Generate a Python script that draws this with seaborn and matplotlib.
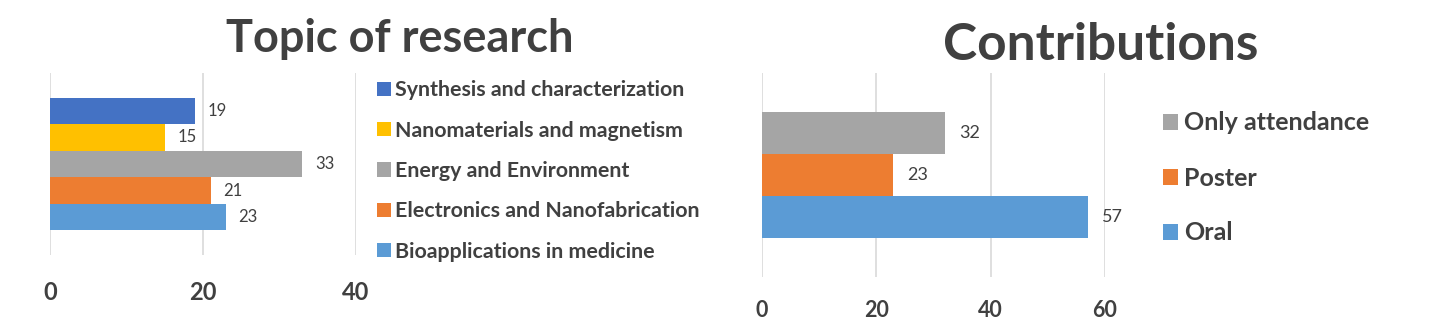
import matplotlib
matplotlib.use('Agg')
import matplotlib.pyplot as plt
from matplotlib.patches import Patch
import pandas as pd
import seaborn as sns

# Data
topics = ['Synthesis and characterization', 'Nanomaterials and magnetism',
          'Energy and Environment', 'Electronics and Nanofabrication',
          'Bioapplications in medicine']
topic_counts = [19, 15, 33, 21, 23]
topic_colors = ['#4472C4', '#FFC000', '#A5A5A5', '#ED7D31', '#5B9BD5']
topic_ticks = [0, 20, 40]

contrib_types = ['Only attendance', 'Poster', 'Oral']
contrib_counts = [32, 23, 57]
contrib_colors = ['#A5A5A5', '#ED7D31', '#5B9BD5']
contrib_ticks = [0, 20, 40, 60]

sns.set_style('white')
plt.rcParams['font.family'] = ['Lato', 'DejaVu Sans']

W, H = 1449, 331
fig = plt.figure(figsize=(W / 100, H / 100), dpi=100)
TXT = '#404040'
GRID = '#D9D9D9'


def px_axes(x0, x1, y0, y1):
    # pixel box (top-left origin) -> figure axes
    return fig.add_axes([x0 / W, 1 - y1 / H, (x1 - x0) / W, (y1 - y0) / H])


def draw(ax, cats, vals, colors, ticks, tick_size, tick_pad, lab_size, lab_pad):
    df = pd.DataFrame({'cat': cats, 'val': vals})
    sns.barplot(data=df, x='val', y='cat', hue='cat', palette=colors,
                orient='h', width=1.0, saturation=1, legend=False, ax=ax,
                linewidth=0)
    n = len(cats)
    ax.set_ylim(n - 0.5 + 0.93, -0.5 - 0.93)
    ax.set_xlim(ticks[0], ticks[-1])
    ax.set_xticks(ticks)
    ax.set_yticks([])
    ax.set_xlabel('')
    ax.set_ylabel('')
    for s in ax.spines.values():
        s.set_visible(False)
    ax.grid(axis='x', color=GRID, linewidth=1.2)
    ax.set_axisbelow(True)
    ax.tick_params(axis='x', length=0, pad=tick_pad, labelsize=tick_size,
                   labelcolor=TXT)
    for t in ax.get_xticklabels():
        t.set_fontweight('bold')
    for c in ax.containers:
        ax.bar_label(c, padding=lab_pad, fontsize=lab_size, color=TXT)


# Left chart: topic of research
ax1 = px_axes(50, 356, 73, 255)
draw(ax1, topics, topic_counts, topic_colors, topic_ticks, 17, 19, 12, 9)
fig.text(400 / W, 1 - 52 / H, 'Topic of research', ha='center', va='baseline',
         fontsize=32.5, fontweight='bold', color=TXT)
h1 = [Patch(facecolor=c, edgecolor='none') for c in topic_colors]
fig.legend(h1, topics, loc='upper left', bbox_to_anchor=(358 / W, 1 - 61 / H),
           frameon=False, labelspacing=0.95, handlelength=0.65,
           handleheight=0.65, handletextpad=0.2, labelcolor=TXT,
           prop={'weight': 'bold', 'size': 15.4})

# Right chart: contributions
ax2 = px_axes(762, 1105, 73, 277)
draw(ax2, contrib_types, contrib_counts, contrib_colors, contrib_ticks, 15.5, 16.5, 13, 10)
fig.text(1101 / W, 1 - 60 / H, 'Contributions', ha='center', va='baseline',
         fontsize=37, fontweight='bold', color=TXT)
h2 = [Patch(facecolor=c, edgecolor='none') for c in contrib_colors]
fig.legend(h2, contrib_types, loc='upper left', bbox_to_anchor=(1140 / W, 1 - 89 / H),
           frameon=False, labelspacing=1.28, handlelength=0.6,
           handleheight=0.6, handletextpad=0.25, labelcolor=TXT,
           prop={'weight': 'bold', 'size': 18})

fig.savefig('out.png', dpi=100)
